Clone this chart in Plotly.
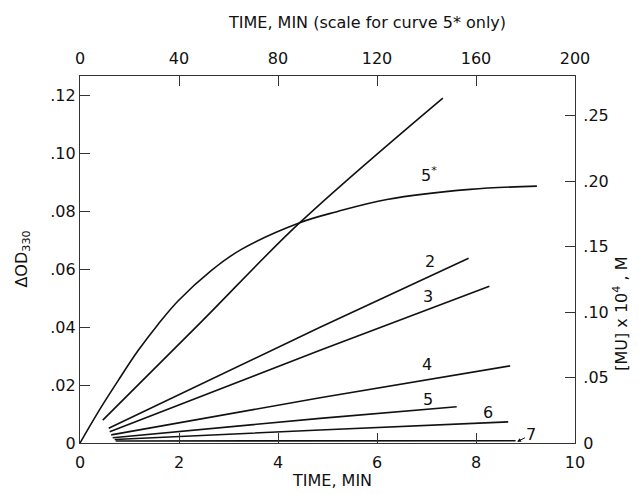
import plotly.graph_objects as go

# ---- data ----
t1 = [0.46, 2.45, 4.44, 7.33]
od1 = [0.0079, 0.0418, 0.0760, 0.1190]

t5s_top = [0, 7.2, 15.4, 23.4, 31.6, 39.6, 53.0, 65.2, 88.8, 103.8, 124.0, 157.6, 184.6]
od5s = [0, 0.0105, 0.0215, 0.0318, 0.0410, 0.0490, 0.0595, 0.0668, 0.0760, 0.0798, 0.0840, 0.0875, 0.0886]

t2 = [0.58, 4.85, 7.85]
od2 = [0.0051, 0.0399, 0.0637]
t3 = [0.60, 4.85, 8.27]
od3 = [0.0039, 0.0320, 0.0541]
t4 = [0.63, 4.85, 8.69]
od4 = [0.0028, 0.0156, 0.0266]
t5 = [0.66, 4.85, 7.61]
od5 = [0.0018, 0.0085, 0.0125]
t6 = [0.70, 4.85, 8.65]
od6 = [0.0012, 0.0045, 0.0073]
t7 = [0.72, 8.80]
od7 = [0.0007, 0.0008]

bottom_ticks = [0, 2, 4, 6, 8, 10]
bottom_labels = ["0", "2", "4", "6", "8", "10"]
top_ticks = [0, 40, 80, 120, 160, 200]
top_labels = ["0", "40", "80", "120", "160", "200"]
left_ticks = [0, 0.02, 0.04, 0.06, 0.08, 0.10, 0.12]
left_labels = ["0", ".02", ".04", ".06", ".08", ".10", ".12"]
right_ticks = [0, 0.05, 0.10, 0.15, 0.20, 0.25]
right_labels = ["0", ".05", ".10", ".15", ".20", ".25"]

curve_labels = ["5<sup>*</sup>", "2", "3", "4", "5", "6"]
label_t = [7.05, 7.07, 7.04, 7.02, 7.04, 8.25]
label_od = [0.0925, 0.0627, 0.0506, 0.0271, 0.0150, 0.0106]

FONT = "DejaVu Sans"
INK = "#111111"
LW = 1.6

fig = go.Figure()
smooth = dict(color=INK, width=LW, shape="spline", smoothing=1.0)
fig.add_trace(go.Scatter(x=t1, y=od1, mode="lines", line=smooth, xaxis="x", yaxis="y"))
fig.add_trace(go.Scatter(x=t5s_top, y=od5s, mode="lines", line=smooth, xaxis="x2", yaxis="y"))
for tx, ty in [(t2, od2), (t3, od3), (t4, od4), (t5, od5), (t6, od6), (t7, od7)]:
    fig.add_trace(go.Scatter(x=tx, y=ty, mode="lines", line=smooth, xaxis="x", yaxis="y"))

annotations = []
for txt, lx, ly in zip(curve_labels, label_t, label_od):
    annotations.append(dict(x=lx, y=ly, xref="x", yref="y", text=txt, showarrow=False,
                            font=dict(family=FONT, size=16, color=INK)))
annotations.append(dict(x=8.83, y=0.0004, xref="x", yref="y", ax=9.12, ay=0.0030,
                        axref="x", ayref="y", text="7", showarrow=True, arrowhead=2,
                        arrowsize=0.8, arrowwidth=1, arrowcolor=INK,
                        font=dict(family=FONT, size=16, color=INK)))
# axis titles
annotations.append(dict(x=-0.117, y=0.50, xref="paper", yref="paper", text="ΔOD<sub>330</sub>",
                        xanchor="center", yanchor="middle",
                        textangle=-90, showarrow=False, font=dict(family=FONT, size=16, color=INK)))
annotations.append(dict(x=1.092, y=0.351, xref="paper", yref="paper", text="[MU] x 10<sup>4</sup> , M",
                        xanchor="center", yanchor="middle",
                        textangle=-90, showarrow=False, font=dict(family=FONT, size=16, color=INK)))
annotations.append(dict(x=0.51, y=-0.101, xref="paper", yref="paper", text="TIME, MIN",
                        xanchor="center", yanchor="middle",
                        showarrow=False, font=dict(family=FONT, size=16, color=INK)))
annotations.append(dict(x=0.58, y=1.145, xref="paper", yref="paper",
                        text="TIME, MIN (scale for curve 5* only)",
                        xanchor="center", yanchor="middle",
                        showarrow=False, font=dict(family=FONT, size=16, color=INK)))

axis_common = dict(showgrid=False, zeroline=False, showline=True, linecolor="#333333",
                   linewidth=1.3, ticks="inside", ticklen=10, tickwidth=1.2, tickcolor="#333333",
                   tickfont=dict(family=FONT, size=16, color=INK))

# the page adds an 8px body margin, so the figure is drawn 8px smaller
fig.update_layout(
    width=631, height=486,
    margin=dict(l=72, r=64, t=68, b=51),
    paper_bgcolor="white", plot_bgcolor="white",
    showlegend=False,
    annotations=annotations,
    xaxis=dict(range=[0, 10], tickvals=bottom_ticks, ticktext=bottom_labels,
               ticklabelstandoff=5, **axis_common),
    xaxis2=dict(range=[0, 200], tickvals=top_ticks, ticktext=top_labels, overlaying="x",
                side="top", ticklabelstandoff=4, **axis_common),
    yaxis=dict(range=[0, 0.1266], tickvals=left_ticks, ticktext=left_labels, **axis_common),
    yaxis2=dict(range=[0, 0.2803], tickvals=right_ticks, ticktext=right_labels, overlaying="y",
                side="right", ticklabelstandoff=4, **axis_common),
)
# dummy trace to activate the right axis
fig.add_trace(go.Scatter(x=[None], y=[None], xaxis="x", yaxis="y2", showlegend=False))

fig.write_html("out.html")
